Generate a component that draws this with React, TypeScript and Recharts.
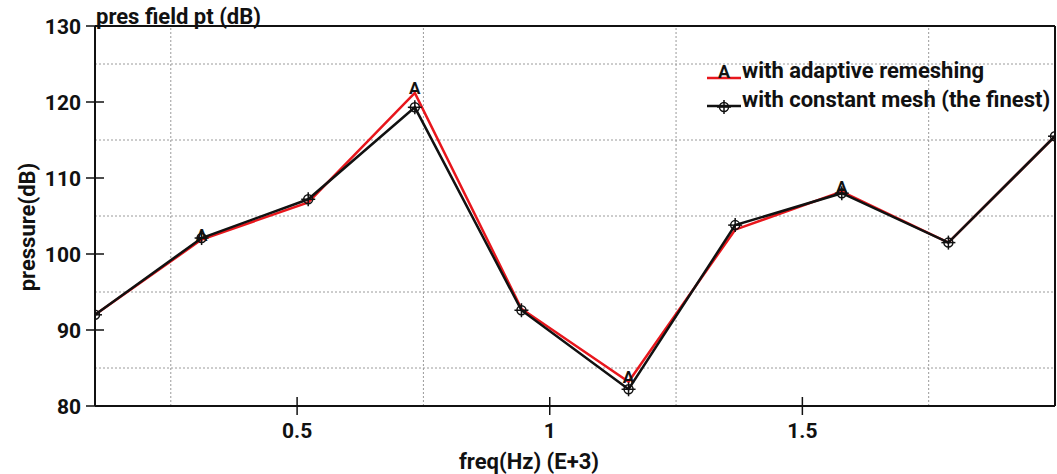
import React from 'react';
import {
  LineChart,
  Line,
  XAxis,
  YAxis,
  ReferenceLine,
} from 'recharts';

const freqs = [0.1, 0.311, 0.522, 0.733, 0.944, 1.156, 1.367, 1.578, 1.789, 2.0];
const adaptive = [92.0, 101.9, 106.8, 121.2, 92.8, 83.2, 103.2, 108.2, 101.5, 115.5];
const constant = [92.0, 102.1, 107.2, 119.3, 92.6, 82.2, 103.8, 108.0, 101.5, 115.5];
// the "A" symbol is only drawn on every other sample of the adaptive curve
const adaptiveMarked = [false, true, false, true, false, true, false, true, false, false];
const xTicks = [0.5, 1, 1.5];
const yTicks = [80, 90, 100, 110, 120, 130];
const xGrid = [0.25, 0.75, 1.25, 1.75];
const yGrid = [85, 95, 105, 115, 125];

const data = freqs.map((f, i) => ({ f, a: adaptive[i], c: constant[i], m: adaptiveMarked[i] }));

const FONT = 'Roboto, "Noto Sans", sans-serif';

const AMarker = (props: any) => {
  const { cx, cy, payload } = props;
  if (cx == null || cy == null || !payload?.m) return null;
  return (
    <text x={cx} y={cy + 1} textAnchor="middle" fontSize={17} fontWeight={700} fontFamily={FONT} fill="#111">
      A
    </text>
  );
};

const CrossMarker = (props: any) => {
  const { cx, cy } = props;
  if (cx == null || cy == null) return null;
  return (
    <g stroke="#111" strokeWidth={1.5} fill="none">
      <circle cx={cx} cy={cy} r={4.5} />
      <line x1={cx - 7} y1={cy} x2={cx + 7} y2={cy} />
      <line x1={cx} y1={cy - 7} x2={cx} y2={cy + 7} />
    </g>
  );
};

const YTick = (props: any) => {
  const { x, y, payload } = props;
  return (
    <g>
      <line x1={x - 9} y1={y} x2={x + 9} y2={y} stroke="#111" strokeWidth={1.5} />
      <text x={x - 14} y={y + 7.5} textAnchor="end" fontSize={21} fontWeight={700} fontFamily={FONT} fill="#111">
        {payload.value}
      </text>
    </g>
  );
};

const XTick = (props: any) => {
  const { x, y, payload } = props;
  return (
    <g>
      <line x1={x} y1={y - 9} x2={x} y2={y + 9} stroke="#111" strokeWidth={1.5} />
      <text x={x} y={y + 32} textAnchor="middle" fontSize={21} fontWeight={700} fontFamily={FONT} fill="#111">
        {payload.value}
      </text>
    </g>
  );
};

const LegendBox = () => (
  <svg width={352} height={64} style={{ position: 'absolute', left: 705, top: 56 }}>
    <line x1={2} y1={22} x2={36} y2={22} stroke="#e8161c" strokeWidth={2.5} />
    <text x={19} y={22} textAnchor="middle" fontSize={18} fontWeight={700} fontFamily={FONT} fill="#111">A</text>
    <text x={37} y={22} fontSize={22} fontWeight={700} fontFamily={FONT} fill="#111">with adaptive remeshing</text>
    <line x1={2} y1={50} x2={36} y2={50} stroke="#111" strokeWidth={2.5} />
    <CrossMarker cx={19} cy={51} />
    <text x={37} y={51} fontSize={22} fontWeight={700} fontFamily={FONT} fill="#111">with constant mesh (the finest)</text>
  </svg>
);

export default function App() {
  return (
    <div style={{ position: 'absolute', left: 0, top: 0, width: 1057, height: 474, background: '#fff' }}>
      <LineChart width={1057} height={474} data={data} margin={{ top: 26, right: 2, left: 0, bottom: 0 }}>
        {xGrid.map((v) => (
          <ReferenceLine key={'x' + v} x={v} stroke="#9a9a9a" strokeDasharray="2 2" strokeWidth={1} />
        ))}
        {yGrid.map((v) => (
          <ReferenceLine key={'y' + v} y={v} stroke="#9a9a9a" strokeDasharray="2 2" strokeWidth={1} />
        ))}
        <ReferenceLine y={130} stroke="#111" strokeWidth={2} />
        <ReferenceLine x={2.0} stroke="#111" strokeWidth={2} />
        <XAxis
          dataKey="f"
          type="number"
          domain={[0.1, 2.0]}
          ticks={xTicks}
          height={68}
          tickSize={0}
          tickMargin={0}
          tickLine={false}
          axisLine={{ stroke: '#111', strokeWidth: 2 }}
          tick={<XTick />}
          allowDataOverflow
        />
        <YAxis
          type="number"
          domain={[80, 130]}
          ticks={yTicks}
          width={95}
          tickSize={0}
          tickMargin={0}
          tickLine={false}
          axisLine={{ stroke: '#111', strokeWidth: 2 }}
          tick={<YTick />}
          allowDataOverflow
        />
        <Line
          type="linear"
          dataKey="a"
          stroke="#e8161c"
          strokeWidth={2.5}
          dot={<AMarker />}
          activeDot={false}
          isAnimationActive={false}
        />
        <Line
          type="linear"
          dataKey="c"
          stroke="#111"
          strokeWidth={2.5}
          dot={<CrossMarker />}
          activeDot={false}
          isAnimationActive={false}
        />
        <text x={96} y={24} fontSize={22} fontWeight={700} fontFamily={FONT} fill="#111">
          pres field pt (dB)
        </text>
        <text
          x={35}
          y={227}
          transform="rotate(-90 35 227)"
          textAnchor="middle"
          fontSize={22}
          fontWeight={700}
          fontFamily={FONT}
          fill="#111"
        >
          pressure(dB)
        </text>
        <text x={529} y={469} textAnchor="middle" fontSize={22} fontWeight={700} fontFamily={FONT} fill="#111">
          freq(Hz) (E+3)
        </text>
      </LineChart>
      <LegendBox />
    </div>
  );
}
